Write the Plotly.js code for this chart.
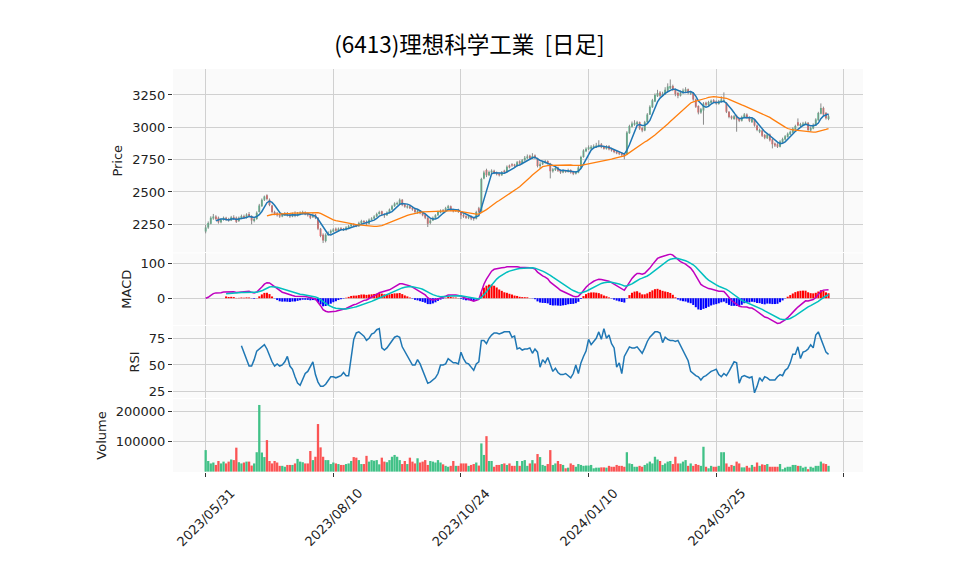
<!DOCTYPE html>
<html><head><meta charset="utf-8">
<script src="https://cdn.plot.ly/plotly-3.0.1.min.js"></script>
<style>html,body{margin:0;padding:0;background:#fff}</style>
</head><body><div id="chart" style="width:958px;height:575px"></div>
<script>
const chartTitle = '(6413)理想科学工業  [日足]';
const tickIdx = [0, 50, 100, 150, 200, 250];
const tickLabels = ['2023/05/31', '2023/08/10', '2023/10/24', '2024/01/10', '2024/03/25', ''];

const openP = [
2195,2225,2255,2295,2310,2300,2265,2285,2300,2290,2280,2305,2300,2275,2295,2315,2300,2330,2315,2275,
2290,2345,2390,2440,2475,2440,2395,2345,2335,2325,2310,2320,2335,2325,2310,2330,2315,2330,2330,2345,
2330,2320,2305,2325,2300,2215,2170,2120,2170,2185,2195,2215,2200,2220,2215,2205,2220,2235,2250,2245,
2235,2258,2275,2270,2255,2285,2295,2310,2330,2350,2330,2320,2340,2365,2390,2405,2405,2440,2405,2380,
2390,2378,2365,2340,2355,2340,2325,2300,2260,2280,2300,2320,2340,2360,2355,2375,2390,2362,2350,2362,
2345,2322,2312,2300,2312,2300,2292,2375,2350,2605,2670,2630,2650,2665,2650,2642,2630,2665,2655,2705,
2715,2712,2700,2738,2720,2745,2760,2780,2760,2782,2760,2700,2715,2725,2740,2720,2660,2670,2690,2670,
2650,2665,2655,2670,2655,2640,2650,2690,2770,2815,2830,2835,2840,2845,2850,2870,2850,2835,2855,2835,
2825,2815,2805,2800,2790,2790,2955,3005,3020,3025,3040,2995,2975,3040,3100,3155,3200,3240,3270,3245,
3255,3285,3300,3320,3295,3265,3245,3265,3280,3295,3260,3265,3215,3165,3115,3130,3190,3170,3190,3210,
3200,3180,3195,3200,3190,3120,3085,3065,3090,3065,3050,3080,3100,3080,3040,3060,3015,2965,2975,2940,
2915,2945,2905,2875,2870,2850,2885,2905,2925,2945,2960,2985,3040,3010,3020,3025,3035,2975,2990,3015,
3055,3105,3150,3110,3065];
const highP = [
2245,2272,2312,2330,2320,2310,2295,2310,2308,2300,2315,2320,2310,2310,2325,2325,2335,2345,2320,2300,
2350,2408,2450,2472,2482,2450,2400,2355,2345,2335,2335,2345,2345,2335,2340,2350,2345,2350,2355,2350,
2340,2325,2335,2330,2305,2222,2180,2180,2195,2210,2220,2225,2225,2228,2222,2235,2245,2260,2258,2252,
2270,2285,2282,2280,2295,2305,2320,2340,2355,2355,2335,2350,2372,2400,2420,2425,2450,2445,2410,2400,
2398,2385,2370,2362,2360,2345,2330,2305,2290,2310,2328,2355,2365,2368,2385,2400,2395,2370,2368,2370,
2350,2330,2320,2320,2318,2305,2355,2385,2610,2665,2680,2665,2675,2672,2658,2650,2662,2672,2705,2712,
2722,2718,2740,2745,2755,2778,2790,2788,2800,2790,2765,2730,2740,2748,2745,2725,2685,2695,2695,2675,
2675,2670,2680,2675,2660,2662,2700,2780,2830,2845,2860,2862,2868,2880,2900,2878,2858,2862,2862,2842,
2832,2822,2812,2808,2798,2970,3020,3045,3055,3050,3045,3002,3050,3110,3170,3220,3262,3290,3280,3275,
3310,3340,3370,3330,3300,3275,3285,3300,3310,3300,3282,3272,3222,3170,3150,3195,3198,3205,3215,3218,
3208,3212,3240,3270,3195,3125,3092,3095,3098,3072,3090,3110,3108,3085,3075,3065,3022,2990,2982,2948,
2955,2952,2912,2882,2878,2900,2920,2940,2960,2975,3000,3020,3069,3035,3042,3045,3040,3005,3030,3070,
3120,3185,3160,3118,3100];
const lowP = [
2180,2215,2250,2285,2280,2255,2258,2278,2275,2270,2275,2285,2260,2268,2290,2292,2295,2305,2250,2265,
2285,2340,2385,2430,2435,2390,2335,2320,2310,2300,2305,2315,2310,2300,2305,2305,2310,2325,2325,2320,
2310,2290,2300,2290,2205,2150,2105,2110,2160,2175,2190,2195,2195,2205,2198,2200,2215,2230,2232,2228,
2230,2250,2258,2245,2250,2280,2290,2305,2325,2315,2300,2315,2335,2360,2385,2398,2400,2390,2378,2372,
2368,2355,2335,2332,2328,2312,2290,2229,2250,2275,2295,2315,2335,2338,2350,2370,2352,2342,2345,2338,
2290,2300,2292,2290,2282,2278,2288,2335,2345,2598,2615,2622,2642,2638,2628,2620,2625,2645,2650,2682,
2695,2690,2695,2712,2715,2740,2755,2752,2755,2755,2690,2680,2708,2720,2712,2605,2650,2662,2655,2640,
2645,2648,2650,2642,2630,2635,2645,2685,2765,2808,2825,2830,2835,2840,2845,2838,2828,2828,2822,2812,
2800,2792,2785,2775,2752,2785,2950,2998,3012,3015,2980,2962,2970,3035,3095,3150,3195,3235,3235,3238,
3250,3280,3295,3280,3240,3225,3238,3258,3272,3255,3250,3205,3150,3100,3105,3020,3165,3165,3185,3188,
3175,3175,3190,3195,3110,3070,3060,3058,2966,3040,3045,3075,3068,3040,3035,3005,2970,2955,2925,2908,
2910,2890,2837,2848,2840,2845,2880,2900,2920,2940,2955,2980,3008,3002,3012,3018,2972,2968,2985,3010,
3050,3100,3090,3060,3055];
const closeP = [
2225,2260,2300,2310,2290,2265,2285,2300,2285,2280,2305,2295,2270,2300,2315,2300,2325,2315,2280,2290,
2340,2395,2440,2465,2445,2400,2345,2330,2320,2310,2325,2335,2320,2310,2330,2315,2335,2340,2345,2325,
2320,2300,2320,2300,2215,2160,2125,2170,2185,2200,2210,2200,2215,2210,2205,2225,2235,2250,2240,2235,
2260,2275,2265,2255,2285,2295,2310,2330,2345,2325,2320,2340,2365,2390,2410,2415,2440,2400,2385,2390,
2375,2365,2345,2355,2335,2320,2300,2255,2280,2300,2320,2345,2355,2355,2375,2390,2360,2350,2360,2345,
2320,2310,2300,2312,2295,2290,2345,2345,2600,2650,2630,2655,2665,2645,2638,2630,2655,2655,2695,2690,
2705,2700,2730,2720,2745,2765,2775,2760,2778,2765,2700,2715,2730,2738,2720,2660,2675,2685,2665,2650,
2665,2655,2670,2650,2640,2655,2690,2770,2820,2835,2845,2850,2855,2860,2865,2845,2835,2850,2830,2820,
2810,2800,2795,2785,2775,2960,3010,3030,3035,3040,2990,2975,3040,3100,3160,3210,3250,3265,3245,3260,
3290,3315,3320,3290,3255,3245,3270,3285,3295,3265,3270,3215,3160,3115,3140,3185,3175,3195,3205,3195,
3185,3200,3215,3210,3120,3080,3070,3085,3060,3050,3080,3100,3075,3050,3065,3015,2980,2980,2935,2920,
2945,2900,2870,2860,2850,2890,2910,2930,2950,2965,2990,3010,3015,3025,3030,3035,2980,2995,3020,3060,
3110,3150,3100,3070,3085];
const volume = [
71,35,27,30,22,35,27,33,27,33, 40,38,79,31,27,30,33,33,20,27,
64,220,63,48,104,35,27,35,30,19, 19,16,22,22,22,27,42,33,31,27,
27,68,38,49,157,80,49,38,38,25, 30,27,25,22,22,25,27,35,48,46,
38,25,25,52,33,38,36,38,24,46, 33,31,38,49,55,49,38,25,35,25,
46,33,27,44,30,33,38,22,35,33, 30,38,30,24,19,16,19,35,19,19,
27,27,27,19,22,25,30,20,93,55, 117,35,35,16,22,22,25,27,22,27,
19,19,35,19,35,38,19,27,38,27, 58,48,22,19,25,71,22,27,35,25,
22,11,13,27,22,16,25,22,19,20, 20,22,11,13,13,14,14,13,19,16,
16,22,19,19,16,64,27,25,16,16, 19,16,22,27,33,27,49,40,35,22,
27,33,35,25,49,27,27,33,38,19, 27,19,25,22,19,82,16,11,19,16,
16,19,64,64,27,16,22,19,33,27, 14,14,19,13,22,16,30,19,24,22,
25,16,16,16,16,25,8,13,16,16, 22,22,19,19,13,16,8,16,13,19,
19,33,27,25,19].map(v => v * 1000);
const rsiFrom = 14;
const rsiVals = [
68,61,55,49,49,55,63,65,67,69, 65,59,53,49,51,49,50,53,58,49,
46,39,33,31,36,42,44,49,53,41, 34,30,30,32,36,39,39,38,39,40,
43,40,40,58,74,80,81,79,77,73, 75,79,80,83,84,66,64,66,69,73,
76,77,76,67,63,58,55,50,50,55, 51,45,38,33,34,36,38,42,50,50,
51,56,54,52,52,51,62,56,52,51, 48,45,51,53,73,73,70,75,78,80,
80,79,80,81,81,81,76,77,65,66, 64,65,65,66,61,65,62,48,55,52,
57,50,44,47,43,41,41,42,40,38, 42,50,42,52,58,63,74,69,72,75,
81,74,84,75,78,70,66,48,52,42, 58,63,67,66,66,67,64,61,66,72,
76,79,81,81,80,71,76,74,73,73, 72,73,68,63,59,54,44,42,40,39,
36,39,40,42,44,45,46,41,39,42, 40,44,49,53,52,33,39,40,39,38,
39,24,30,38,35,39,38,36,36,36, 39,41,40,45,47,52,60,60,67,56,
62,63,65,69,66,78,81,75,68,62, 60];

const N = closeP.length;
const idx = closeP.map((_, i) => i);
const UP = '#41c187', DOWN = '#fb5454';

function sma(a, n) { return a.map((_, i) => { if (i < n - 1) return null; let s = 0; for (let k = i - n + 1; k <= i; k++) s += a[k]; return s / n; }); }
function ema(a, span) { const al = 2 / (span + 1); const out = []; a.forEach((v, i) => out.push(i === 0 ? v : al * v + (1 - al) * out[i - 1])); return out; }
const ma5 = sma(closeP, 5), ma25 = sma(closeP, 25);
const e12 = ema(closeP, 12), e26 = ema(closeP, 26);
const macd = e12.map((v, i) => v - e26[i]);
const sigFull = ema(macd, 9);
const signal = sigFull.map((v, i) => i < 8 ? null : v);
const hist = macd.map((v, i) => i < 8 ? null : v - sigFull[i]);
const rsi = idx.map(i => i < rsiFrom ? null : rsiVals[i - rsiFrom]);

const isUp = idx.map(i => closeP[i] >= openP[i]);
const wx = [], wy = [];
idx.forEach(i => { wx.push(i, i, null); wy.push(lowP[i], highP[i], null); });

const traces = [
  {type:'scatter', mode:'lines', x:wx, y:wy, line:{color:'#8a8a8a', width:1}, yaxis:'y', hoverinfo:'skip'},
  {type:'bar', x:idx, base:idx.map(i => Math.min(openP[i], closeP[i])), y:idx.map(i => Math.abs(closeP[i] - openP[i])),
   width:0.72, marker:{color:idx.map(i => isUp[i] ? UP : DOWN), line:{width:0}}, yaxis:'y'},
  {type:'scatter', mode:'lines', x:idx, y:ma5, line:{color:'#1f77b4', width:1.5}, yaxis:'y'},
  {type:'scatter', mode:'lines', x:idx, y:ma25, line:{color:'#ff7f0e', width:1.3}, yaxis:'y'},
  {type:'bar', x:idx, y:hist, width:0.8, marker:{color:hist.map(v => v >= 0 ? '#ff0000' : '#0000ff'), line:{width:0}}, yaxis:'y2'},
  {type:'scatter', mode:'lines', x:idx, y:macd, line:{color:'#bf00bf', width:1.5}, yaxis:'y2'},
  {type:'scatter', mode:'lines', x:idx, y:signal, line:{color:'#00bfbf', width:1.5}, yaxis:'y2'},
  {type:'scatter', mode:'lines', x:idx, y:rsi, line:{color:'#1f77b4', width:1.5}, yaxis:'y3'},
  {type:'bar', x:idx, y:volume, width:0.9, marker:{color:idx.map(i => isUp[i] ? UP : DOWN), line:{width:0}}, yaxis:'y4'}
];

const tf = {family:'DejaVu Sans, sans-serif', size:13, color:'#222'};
const yBase = {anchor:'x', showgrid:true, gridcolor:'#d0d0d0', gridwidth:1, zeroline:false, ticks:'outside', ticklen:4,
  tickcolor:'#333', tickfont:tf, showline:false, fixedrange:true, tickformat:'d'};
const dateAnnotations = tickIdx.map((v, i) => ({
  x:v, xref:'x', y:-0.1117, yref:'paper', text:tickLabels[i], showarrow:false, textangle:-45,
  xanchor:'center', yanchor:'middle', font:tf
})).filter(a => a.text !== '');
const layout = {
  width:958, height:575,
  margin:{l:173, r:95, t:69, b:103},
  paper_bgcolor:'#ffffff', plot_bgcolor:'#fafafa',
  showlegend:false, barmode:'overlay',
  title:{text:chartTitle, font:{family:'Noto Sans CJK JP', size:22.5, color:'#000'}, x:0.49, xanchor:'center', y:0.922, yanchor:'middle'},
  xaxis:{range:[-12.8, 257.5], tickvals:tickIdx, ticktext:tickLabels.map(() => ''), anchor:'y4', showgrid:true,
    gridcolor:'#d0d0d0', ticks:'outside', ticklen:4, tickcolor:'#333', zeroline:false, tickfont:tf, showline:false},
  yaxis:Object.assign({}, yBase, {domain:[0.5447, 1], range:[2032, 3451], tickvals:[2250,2500,2750,3000,3250],
    title:{text:'Price', font:tf, standoff:6}}),
  yaxis2:Object.assign({}, yBase, {domain:[0.3648, 0.5422], range:[-76, 127], tickvals:[0,100],
    title:{text:'MACD', font:tf, standoff:6}}),
  yaxis3:Object.assign({}, yBase, {domain:[0.1836, 0.3623], range:[19.1, 86.5], tickvals:[25,50,75],
    title:{text:'RSI', font:tf, standoff:6}}),
  yaxis4:Object.assign({}, yBase, {domain:[0, 0.1811], range:[-1300, 239600], tickvals:[100000,200000],
    title:{text:'Volume', font:tf, standoff:6}}),
  annotations:dateAnnotations
};
Plotly.newPlot('chart', traces, layout, {displayModeBar:false, staticPlot:true});
</script></body></html>
